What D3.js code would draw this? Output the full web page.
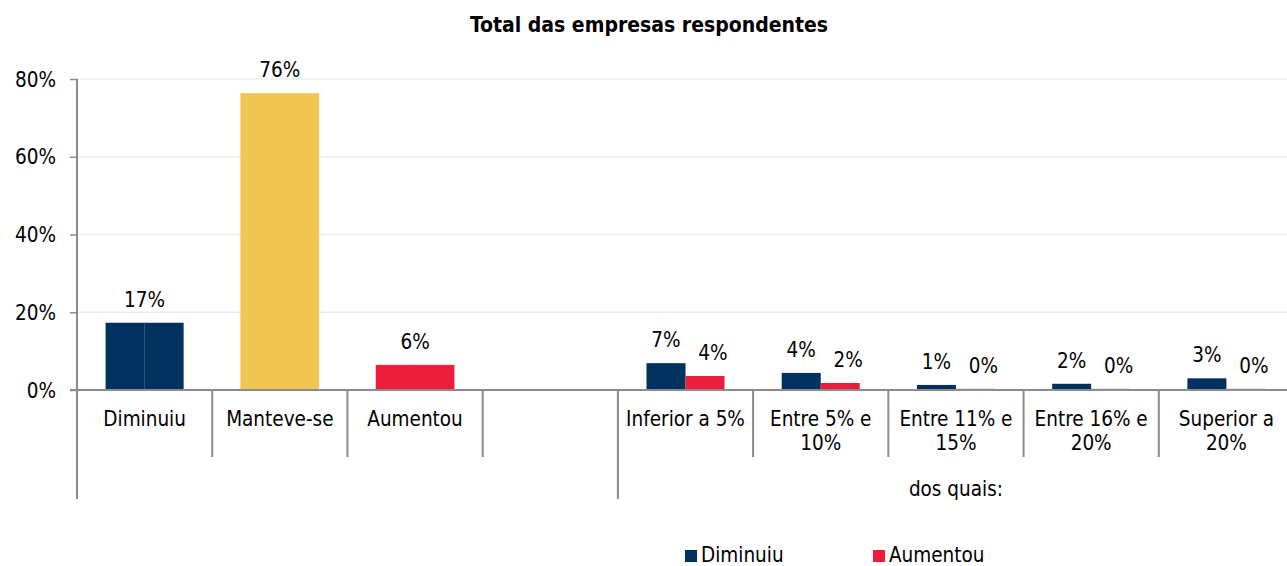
<!DOCTYPE html>
<html><head><meta charset="utf-8">
<script src="https://cdn.jsdelivr.net/npm/d3@7"></script>
<style>
body{margin:0;background:#fff;}
text{font-family:"DejaVu Sans Condensed","DejaVu Sans",sans-serif;fill:#000;}
</style></head>
<body><svg id="c" width="1287" height="566"></svg>
<script>
const categories = ["Diminuiu","Manteve-se","Aumentou","","Inferior a 5%","Entre 5% e 10%","Entre 11% e 15%","Entre 16% e 20%","Superior a 20%"];
const totalCats = ["Diminuiu","Manteve-se","Aumentou"];
const totalValues = [17.3, 76.3, 6.4];
const subCats = ["Inferior a 5%","Entre 5% e 10%","Entre 11% e 15%","Entre 16% e 20%","Superior a 20%"];
const diminuiuValues = [6.9, 4.4, 1.3, 1.6, 3.0];
const aumentouValues = [3.6, 1.8, 0.3, 0.3, 0.3];
const seriesNames = ["Diminuiu","Aumentou"];
const yTicks = [0, 20, 40, 60, 80];
const groupLabel = "dos quais:";
const title = "Total das empresas respondentes";

const colors = {Diminuiu:"#00315f", "Manteve-se":"#f2c751", Aumentou:"#ed1c3a"};
const FS = 20.5;

const svg = d3.select("#c");
const x0 = 77, x1 = 1294, yTop = 79, yBase = 390;

const x = d3.scaleBand().domain(categories).range([x0, x1]).paddingInner(0).paddingOuter(0);
const bw = x.bandwidth();
const xs = d3.scaleBand().domain(seriesNames).range([bw*0.2115, bw*0.7885]).padding(0);
const y = d3.scaleLinear().domain([0, 80]).range([yBase, yTop]);

// title
svg.append("text").attr("x", 649).attr("y", 32).attr("text-anchor","middle")
  .style("font-weight","bold").style("font-size","21px").text(title);

// gridlines
svg.append("g").selectAll("line").data(yTicks.filter(d=>d>0)).join("line")
  .attr("x1", x0).attr("x2", 1287).attr("y1", d=>y(d)).attr("y2", d=>y(d))
  .attr("stroke","#ececec").attr("stroke-width",1.5);

// y axis
const yAxis = d3.axisLeft(y).tickValues(yTicks).tickFormat(d=>d+"%").tickSize(7).tickPadding(14);
const ya = svg.append("g").attr("transform",`translate(${x0},0)`).call(yAxis);
ya.select(".domain").remove();
ya.selectAll(".tick line").attr("stroke","#8c8c8c").attr("stroke-width",1.5);
ya.selectAll(".tick text").style("font-size",FS+"px").style("font-family",'"DejaVu Sans Condensed","DejaVu Sans",sans-serif').attr("fill","#000").attr("dy","0.35em");

// bars top-level (two halves)
const topData = [];
totalCats.forEach((c,i)=>seriesNames.forEach(s=>topData.push({c, s, v: totalValues[i]})));
svg.append("g").selectAll("rect").data(topData).join("rect")
  .attr("x", d=>x(d.c)+xs(d.s)).attr("width", xs.bandwidth()+(d=>0)())
  .attr("y", d=>y(d.v)).attr("height", d=>yBase-y(d.v))
  .attr("fill", d=>colors[d.c])
  .attr("stroke", d=>colors[d.c]).attr("stroke-width", d=>d.c==="Diminuiu"?0:0.6);
// faint seam in the first bar
svg.append("line").attr("x1", x("Diminuiu")+xs("Aumentou")).attr("x2", x("Diminuiu")+xs("Aumentou"))
  .attr("y1", y(totalValues[0])).attr("y2", yBase).attr("stroke","#2a4d75").attr("stroke-width",0.8);

// bars sub categories
const subData = [];
subCats.forEach((c,i)=>{
  subData.push({c, s:"Diminuiu", v: diminuiuValues[i]});
  subData.push({c, s:"Aumentou", v: aumentouValues[i]});
});
svg.append("g").selectAll("rect").data(subData).join("rect")
  .attr("x", d=>x(d.c)+xs(d.s)).attr("width", xs.bandwidth())
  .attr("y", d=>y(d.v)).attr("height", d=>yBase-y(d.v))
  .attr("fill", d=>colors[d.s]);

// labels
svg.append("g").selectAll("text").data(totalCats).join("text")
  .attr("x", (c)=>x(c)+bw/2).attr("y",(c,i)=>y(totalValues[i])-16)
  .attr("text-anchor","middle").style("font-size",FS+"px").text((c,i)=>Math.round(totalValues[i])+"%");
svg.append("g").selectAll("text").data(subData).join("text")
  .attr("x", d=>x(d.c)+xs(d.s)+xs.bandwidth()/2 + (d.s==="Aumentou"?8:0)).attr("y", d=>y(d.v)-16)
  .attr("text-anchor","middle").style("font-size",FS+"px").text(d=>Math.round(d.v)+"%");

// x axis line
svg.append("line").attr("x1",70).attr("x2",1287).attr("y1",yBase).attr("y2",yBase)
  .attr("stroke","#8c8c8c").attr("stroke-width",2);
// y axis line
svg.append("line").attr("x1",x0).attr("x2",x0).attr("y1",yTop).attr("y2",499)
  .attr("stroke","#8c8c8c").attr("stroke-width",2);

// category separators
const seps = categories.map(c=>x(c)).concat([x1]);
svg.append("g").selectAll("line").data(seps.slice(1)).join("line")
  .attr("x1",d=>d).attr("x2",d=>d).attr("y1",yBase)
  .attr("y2",d=> Math.abs(d - x(subCats[0]))<1 ? 499 : 457)
  .attr("stroke","#8c8c8c").attr("stroke-width",2);

// category labels
const wrap = {"Entre 5% e 10%":["Entre 5% e","10%"],"Entre 11% e 15%":["Entre 11% e","15%"],"Entre 16% e 20%":["Entre 16% e","20%"],"Superior a 20%":["Superior a","20%"]};
const cl = svg.append("g").selectAll("text").data(categories.filter(c=>c!=="")).join("text")
  .attr("x", c=>x(c)+bw/2).attr("y", 426).attr("text-anchor","middle").style("font-size",FS+"px");
cl.each(function(c){
  const lines = wrap[c] || [c];
  d3.select(this).selectAll("tspan").data(lines).join("tspan")
    .attr("x", x(c)+bw/2).attr("dy",(d,i)=>i===0?0:24).text(d=>d);
});

// group label
svg.append("text").attr("x",(x(subCats[0])+x1)/2).attr("y",496).attr("text-anchor","middle")
  .style("font-size",FS+"px").text(groupLabel);

// legend
const leg = svg.append("g").selectAll("g").data(seriesNames).join("g")
  .attr("transform",(d,i)=>`translate(${[685,873][i]},550)`);
leg.append("rect").attr("width",12).attr("height",12).attr("fill",d=>colors[d]);
leg.append("text").attr("x",16).attr("y",12).style("font-size",FS+"px").text(d=>d);
</script></body></html>
